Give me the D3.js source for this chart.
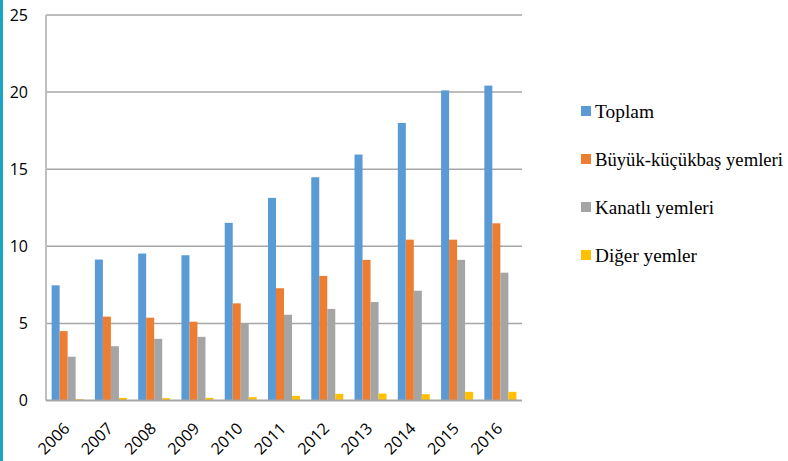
<!DOCTYPE html>
<html>
<head>
<meta charset="utf-8">
<script src="https://cdn.jsdelivr.net/npm/d3@7"></script>
<style>
  html, body { margin: 0; padding: 0; background: #ffffff; }
  svg { display: block; }
</style>
</head>
<body>
<svg id="chart" width="788" height="461"></svg>
<script>
// Yem üretimi (milyon ton), 2006–2016
const years = ["2006","2007","2008","2009","2010","2011","2012","2013","2014","2015","2016"];
const seriesNames = ["Toplam", "Büyük-küçükbaş yemleri", "Kanatlı yemleri", "Diğer yemler"];
const toplam   = [7.47, 9.14, 9.53, 9.42, 11.52, 13.14, 14.48, 15.95, 18.0, 20.11, 20.42];
const buyuk    = [4.5, 5.44, 5.37, 5.11, 6.3, 7.28, 8.08, 9.12, 10.43, 10.43, 11.49];
const kanatli  = [2.84, 3.52, 4.0, 4.13, 4.96, 5.56, 5.94, 6.39, 7.12, 9.12, 8.29];
const diger    = [0.08, 0.17, 0.15, 0.17, 0.22, 0.3, 0.43, 0.45, 0.41, 0.56, 0.56];
const yTicks   = [0, 5, 10, 15, 20, 25];
const colors   = ["#5b9bd5", "#ed7d31", "#a5a5a5", "#ffc000"];
// legend label widths (px)
const legendWidths = [59, 188, 119, 102];

const seriesValues = [toplam, buyuk, kanatli, diger];
const rows = years.map((y, i) => ({
  year: y,
  values: seriesNames.map((s, k) => ({ key: s, value: seriesValues[k][i], color: colors[k] }))
}));

const svg = d3.select("#chart");

// accent stripe on the left edge
svg.append("rect").attr("x", 0).attr("y", 0).attr("width", 3).attr("height", 461).attr("fill", "#1aa6c2");

const plot = { left: 46, right: 522, top: 15, bottom: 400.5 };

const x0 = d3.scaleBand().domain(years).range([plot.left, plot.right]).paddingInner(0.26).paddingOuter(0.13);
const x1 = d3.scaleBand().domain(seriesNames).range([0, x0.bandwidth()]);
const y = d3.scaleLinear().domain([0, 25]).range([plot.bottom, plot.top]);

// horizontal gridlines
svg.append("g")
  .selectAll("line")
  .data(yTicks.filter(t => t > 0))
  .join("line")
  .attr("x1", plot.left).attr("x2", plot.right)
  .attr("y1", d => y(d)).attr("y2", d => y(d))
  .attr("stroke", "#a6a6a6").attr("stroke-width", 1.5);

// y axis labels
const yAxis = svg.append("g")
  .attr("transform", `translate(${plot.left},0)`)
  .call(d3.axisLeft(y).tickValues(yTicks).tickSize(0).tickPadding(18));
yAxis.select(".domain").remove();
yAxis.selectAll("text")
  .attr("font-family", "'Open Sans', sans-serif")
  .attr("font-size", 16)
  .attr("fill", "#000");

// bars
const groups = svg.append("g")
  .selectAll("g")
  .data(rows)
  .join("g")
  .attr("transform", d => `translate(${x0(d.year)},0)`);

groups.selectAll("rect")
  .data(d => d.values)
  .join("rect")
  .attr("x", d => x1(d.key))
  .attr("width", x1.bandwidth())
  .attr("y", d => y(d.value))
  .attr("height", d => y(0) - y(d.value))
  .attr("fill", d => d.color);

// left axis line
svg.append("line")
  .attr("x1", plot.left).attr("x2", plot.left)
  .attr("y1", plot.top).attr("y2", plot.bottom)
  .attr("stroke", "#bfbfbf").attr("stroke-width", 2);

// x axis
const xAxis = svg.append("g")
  .attr("transform", `translate(0,${plot.bottom})`)
  .call(d3.axisBottom(x0).tickSize(0));
xAxis.select(".domain").attr("stroke", "#a6a6a6").attr("stroke-width", 2)
  .attr("d", `M${plot.left},0H${plot.right}`);
xAxis.selectAll("text")
  .attr("font-family", "'Open Sans', sans-serif")
  .attr("font-size", 16)
  .attr("fill", "#000")
  .attr("x", 0).attr("y", 0).attr("dy", 0)
  .attr("text-anchor", "end")
  .attr("transform", "translate(3,29) rotate(-45)");

// legend
const legend = svg.append("g")
  .selectAll("g")
  .data(seriesNames)
  .join("g")
  .attr("transform", (d, i) => `translate(581,${118 + i * 48})`);
legend.append("rect")
  .attr("x", 0).attr("y", -12).attr("width", 10).attr("height", 10)
  .attr("fill", (d, i) => colors[i]);
legend.append("text")
  .attr("x", 14).attr("y", 0)
  .attr("font-family", "'Liberation Serif', 'Times New Roman', serif")
  .attr("font-size", 18.5)
  .attr("fill", "#000")
  .attr("textLength", (d, i) => legendWidths[i])
  .attr("lengthAdjust", "spacingAndGlyphs")
  .text(d => d);
</script>
</body>
</html>
